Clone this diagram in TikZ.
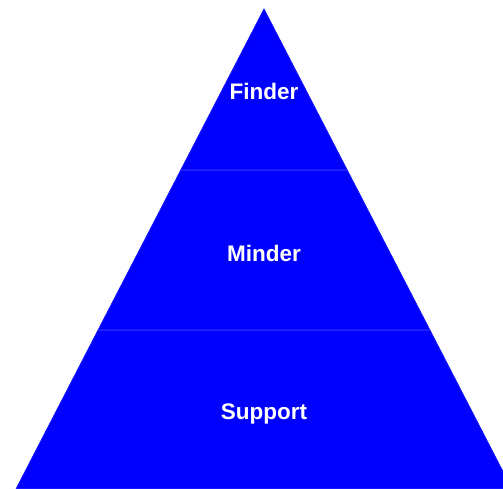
\documentclass[tikz,border=0pt]{standalone}
\usepackage{fontspec}
\setmainfont{Liberation Sans}
\usepackage{tikz}

\begin{document}
\begin{tikzpicture}[x=1pt,y=1pt]
\useasboundingbox (0,0) rectangle (503,489);
\clip (0,0) rectangle (503,489);
\begin{scope}[layer/.style={fill=blue,draw=blue!75!white,line width=0.6pt}]
    \path [layer] (16.0,0) -- (512.0,0) -- (429.9,159) -- (98.1,159) -- cycle;
    \path [layer] (98.1,159) -- (429.9,159) -- (347.2,319) -- (180.8,319) -- cycle;
    \path [layer] (180.8,319) -- (347.2,319) -- (264.0,480) -- cycle;
    \draw [blue] (16.0,0) -- (98.1,159) (429.9,159) -- (512.0,0)
                 (98.1,159) -- (180.8,319) (347.2,319) -- (429.9,159)
                 (180.8,319) -- (264.0,480) -- (347.2,319);
\end{scope}
\begin{scope}[every node/.style={text=white,font=\fontsize{22.5}{26}\selectfont\bfseries}]
    \node (finder) at (264, 398) {Finder};
    \node (minder) at (264, 236) {Minder};
    \node (support) at (264, 75) {Support};
\end{scope}
\end{tikzpicture}
\end{document}
